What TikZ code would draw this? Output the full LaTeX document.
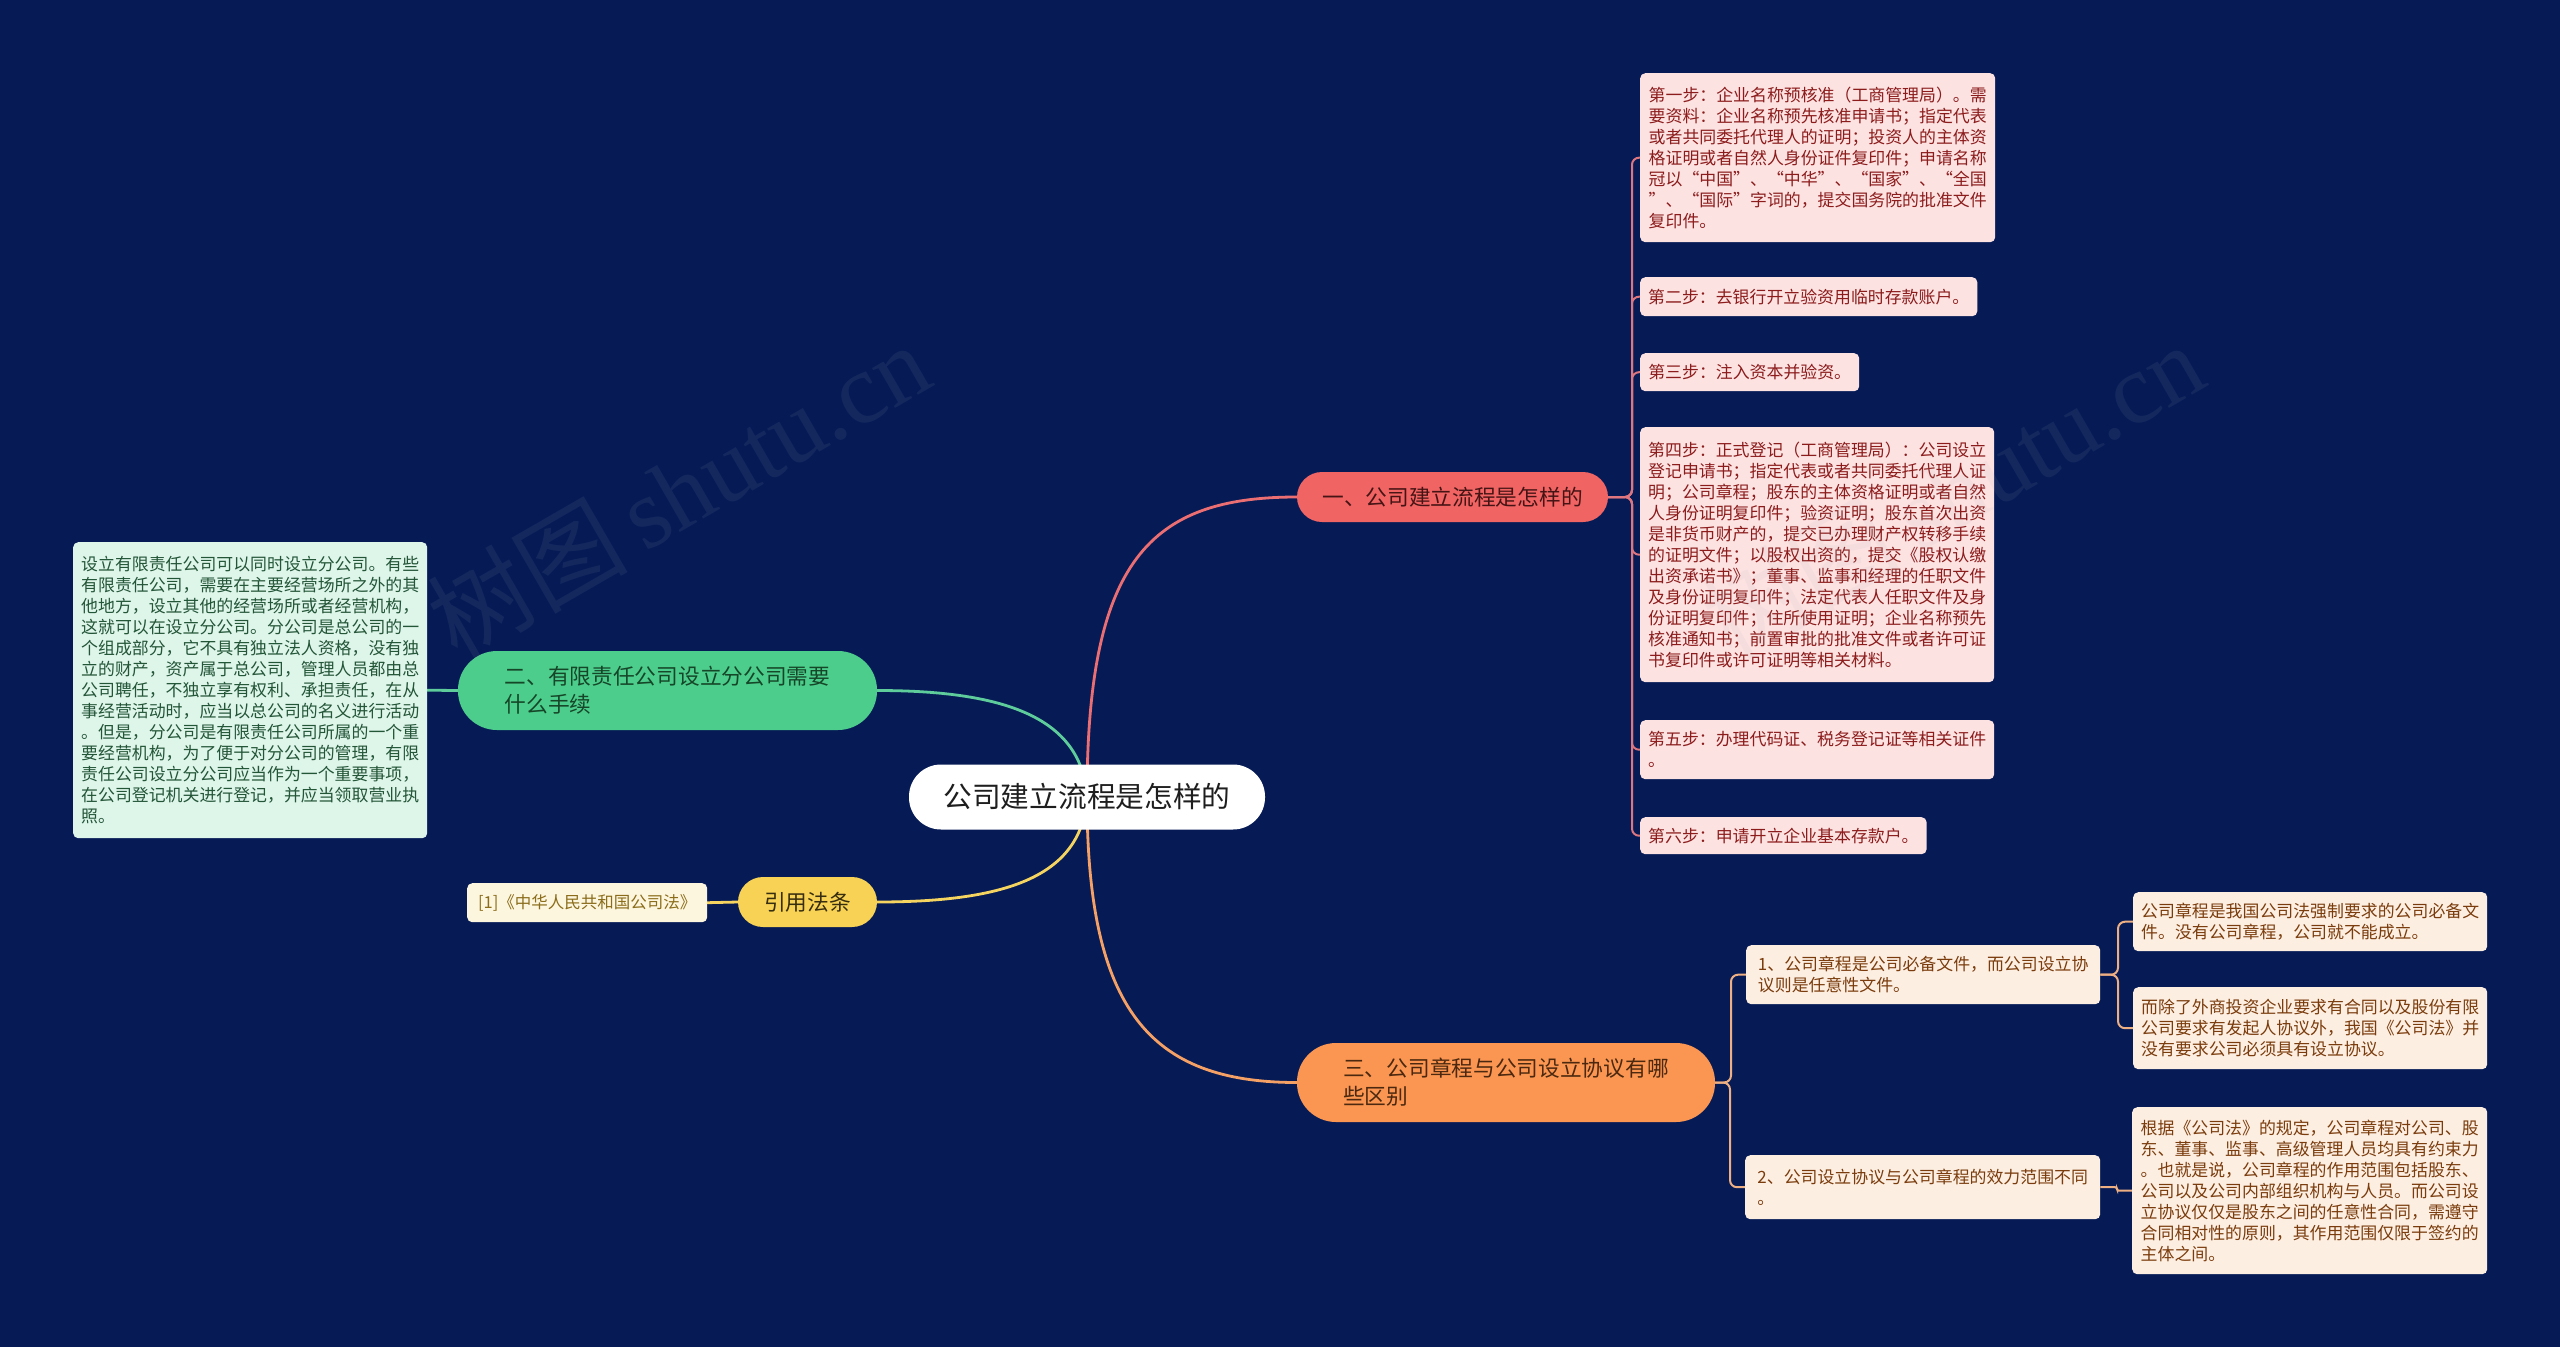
\documentclass[tikz,border=0pt]{standalone}
\usepackage{fontspec}
\newfontfamily\cjk{Noto Sans CJK SC}
\newfontfamily\wmlat{Liberation Serif}
\definecolor{bgc}{RGB}{6,27,86}
\definecolor{ctext}{RGB}{30,30,30}
\definecolor{redfill}{RGB}{240,100,100}
\definecolor{redtext}{RGB}{70,20,20}
\definecolor{stepfill}{RGB}{253,226,226}
\definecolor{steptext}{RGB}{140,28,28}
\definecolor{redline}{RGB}{235,110,115}
\definecolor{redtree}{RGB}{222,118,128}
\definecolor{grnfill}{RGB}{76,205,140}
\definecolor{grntext}{RGB}{22,70,40}
\definecolor{grnleaf}{RGB}{222,245,234}
\definecolor{grnltext}{RGB}{35,85,55}
\definecolor{grnline}{RGB}{95,205,155}
\definecolor{ylwfill}{RGB}{247,210,85}
\definecolor{ylwtext}{RGB}{55,45,15}
\definecolor{ylwleaf}{RGB}{253,246,222}
\definecolor{ylwltext}{RGB}{138,108,26}
\definecolor{ylwline}{RGB}{245,212,95}
\definecolor{orgfill}{RGB}{250,150,82}
\definecolor{orgtext}{RGB}{75,40,15}
\definecolor{orgleaf}{RGB}{253,238,226}
\definecolor{orgltext}{RGB}{122,60,12}
\definecolor{orgline}{RGB}{245,160,100}
\definecolor{orgtree}{RGB}{238,175,130}
\pgfdeclarelayer{bgl}
\pgfdeclarelayer{lines}
\pgfsetlayers{bgl,lines,main}
\tikzset{
  pill/.style={rectangle, inner xsep=14, inner ysep=4},
  bigfont/.style={font=\cjk\fontsize{21.7}{28}\selectfont},
  leaffont/.style={font=\cjk\fontsize{16.9}{21}\selectfont},
  leafbox/.style={leaffont, rounded corners=5, anchor=north west, inner xsep=8, inner ysep=0, align=left},
  stepbox/.style={leafbox, fill=stepfill, text=steptext},
  gleafbox/.style={leafbox, fill=grnleaf, text=grnltext},
  oleafbox/.style={leafbox, fill=orgleaf, text=orgltext},
  mainline/.style={line width=2.8, line cap=round},
  treeline/.style={line width=2, rounded corners=7},
  wm/.style={text=gray!60, text opacity=0.09, font=\fontsize{100}{100}\selectfont}
}
\begin{document}
\begin{tikzpicture}[x=1pt,y=-1pt]
\begin{pgfonlayer}{bgl}
\fill[bgc] (0,0) rectangle (2560,1347);
\end{pgfonlayer}
\useasboundingbox (0,0) rectangle (2560,1347);

% central topic
\node[pill, rounded corners=32, fill=white, text=ctext, minimum width=356, minimum height=65,
      font=\cjk\fontsize{28.7}{34}\selectfont] (C) at (1087,797) {公司建立流程是怎样的};

% main branches
\node[pill, rounded corners=25, bigfont, fill=redfill, text=redtext, minimum width=311, minimum height=50] (B1) at (1452.5,497) {一、公司建立流程是怎样的};
\node[pill, rounded corners=39, bigfont, fill=grnfill, text=grntext, minimum width=419, minimum height=79, align=left] (B2) at (667.5,690.5) {二、有限责任公司设立分公司需要\\什么手续};
\node[pill, rounded corners=25, bigfont, fill=ylwfill, text=ylwtext, minimum width=139, minimum height=50] (BY) at (807.5,902) {引用法条};
\node[pill, rounded corners=39, bigfont, fill=orgfill, text=orgtext, minimum width=418, minimum height=79, align=left] (B3) at (1506,1082.5) {三、公司章程与公司设立协议有哪\\些区别};

% steps
\node[stepbox, minimum width=355, minimum height=169] (S1) at (1640,73) {第一步：企业名称预核准（工商管理局）。需\\要资料：企业名称预先核准申请书；指定代表\\或者共同委托代理人的证明；投资人的主体资\\格证明或者自然人身份证件复印件；申请名称\\冠以“中国”、“中华”、“国家”、“全国\\”、“国际”字词的，提交国务院的批准文件\\复印件。};
\node[stepbox, minimum width=337, minimum height=39] (S2) at (1640,277) {第二步：去银行开立验资用临时存款账户。};
\node[stepbox, minimum width=219, minimum height=38] (S3) at (1640,353) {第三步：注入资本并验资。};
\node[stepbox, minimum width=354, minimum height=255] (S4) at (1640,427) {第四步：正式登记（工商管理局）：公司设立\\登记申请书；指定代表或者共同委托代理人证\\明；公司章程；股东的主体资格证明或者自然\\人身份证明复印件；验资证明；股东首次出资\\是非货币财产的，提交已办理财产权转移手续\\的证明文件；以股权出资的，提交《股权认缴\\出资承诺书》；董事、监事和经理的任职文件\\及身份证明复印件；法定代表人任职文件及身\\份证明复印件；住所使用证明；企业名称预先\\核准通知书；前置审批的批准文件或者许可证\\书复印件或许可证明等相关材料。};
\node[stepbox, minimum width=354, minimum height=59] (S5) at (1640,720) {第五步：办理代码证、税务登记证等相关证件\\。};
\node[stepbox, minimum width=286, minimum height=37] (S6) at (1640,817) {第六步：申请开立企业基本存款户。};

% green leaf
\node[gleafbox, minimum width=354, minimum height=296] (G1) at (73,542) {设立有限责任公司可以同时设立分公司。有些\\有限责任公司，需要在主要经营场所之外的其\\他地方，设立其他的经营场所或者经营机构，\\这就可以在设立分公司。分公司是总公司的一\\个组成部分，它不具有独立法人资格，没有独\\立的财产，资产属于总公司，管理人员都由总\\公司聘任，不独立享有权利、承担责任，在从\\事经营活动时，应当以总公司的名义进行活动\\。但是，分公司是有限责任公司所属的一个重\\要经营机构，为了便于对分公司的管理，有限\\责任公司设立分公司应当作为一个重要事项，\\在公司登记机关进行登记，并应当领取营业执\\照。};

% citation
\node[leafbox, fill=ylwleaf, text=ylwltext, minimum width=240, minimum height=39,
      font=\cjk\fontsize{16.5}{20}\selectfont] (Y1) at (467,883) {[1]《中华人民共和国公司法》};

% orange subtree
\node[oleafbox, minimum width=354, minimum height=59] (O1) at (1746,945) {1、公司章程是公司必备文件，而公司设立协\\议则是任意性文件。};
\node[oleafbox, minimum width=355, minimum height=64] (O2) at (1745,1155) {2、公司设立协议与公司章程的效力范围不同\\。};
\node[oleafbox, minimum width=354, minimum height=59] (L1) at (2133,892) {公司章程是我国公司法强制要求的公司必备文\\件。没有公司章程，公司就不能成立。};
\node[oleafbox, minimum width=354, minimum height=82] (L2) at (2133,987) {而除了外商投资企业要求有合同以及股份有限\\公司要求有发起人协议外，我国《公司法》并\\没有要求公司必须具有设立协议。};
\node[oleafbox, minimum width=355, minimum height=167] (L3) at (2132,1107) {根据《公司法》的规定，公司章程对公司、股\\东、董事、监事、高级管理人员均具有约束力\\。也就是说，公司章程的作用范围包括股东、\\公司以及公司内部组织机构与人员。而公司设\\立协议仅仅是股东之间的任意性合同，需遵守\\合同相对性的原则，其作用范围仅限于签约的\\主体之间。};

\begin{pgfonlayer}{lines}
% central connectors
\draw[mainline, redline] (C.center) .. controls (1087,560) and (1150,497) .. (B1.west);
\draw[mainline, grnline] (C.center) .. controls (1082,720) and (1010,690.5) .. (B2.east);
\draw[mainline, ylwline] (C.center) .. controls (1082,875) and (1010,902) .. (BY.east);
\draw[mainline, orgline] (C.center) .. controls (1087,1010) and (1150,1082.5) .. (B3.west);
% simple links
\draw[mainline, grnline] (B2.west) -- (G1.east);
\draw[mainline, ylwline] (BY.west) -- (Y1.east);
% step tree
\foreach \s in {S1,S2,S3,S4,S5,S6}
  \draw[treeline, redtree] (B1.east) -| ([xshift=-8]\s.west) -- (\s.west);
% orange tree
\foreach \s in {O1,O2}
  \draw[treeline, orgtree] (B3.east) -| ([xshift=-15]\s.west) -- (\s.west);
\foreach \s in {L1,L2}
  \draw[treeline, orgtree] (O1.east) -| ([xshift=-15]\s.west) -- (\s.west);
\draw[treeline, orgtree, rounded corners=2] (O2.east) -| ([xshift=-15]L3.west) -- (L3.west);
\end{pgfonlayer}

% watermarks
\node[wm, rotate=30] (W1) at (678,490) {\cjk 树图\,\wmlat shutu.cn};
\node[wm, rotate=30] (W2) at (1952,490) {\cjk 树图\,\wmlat shutu.cn};
\end{tikzpicture}
\end{document}
